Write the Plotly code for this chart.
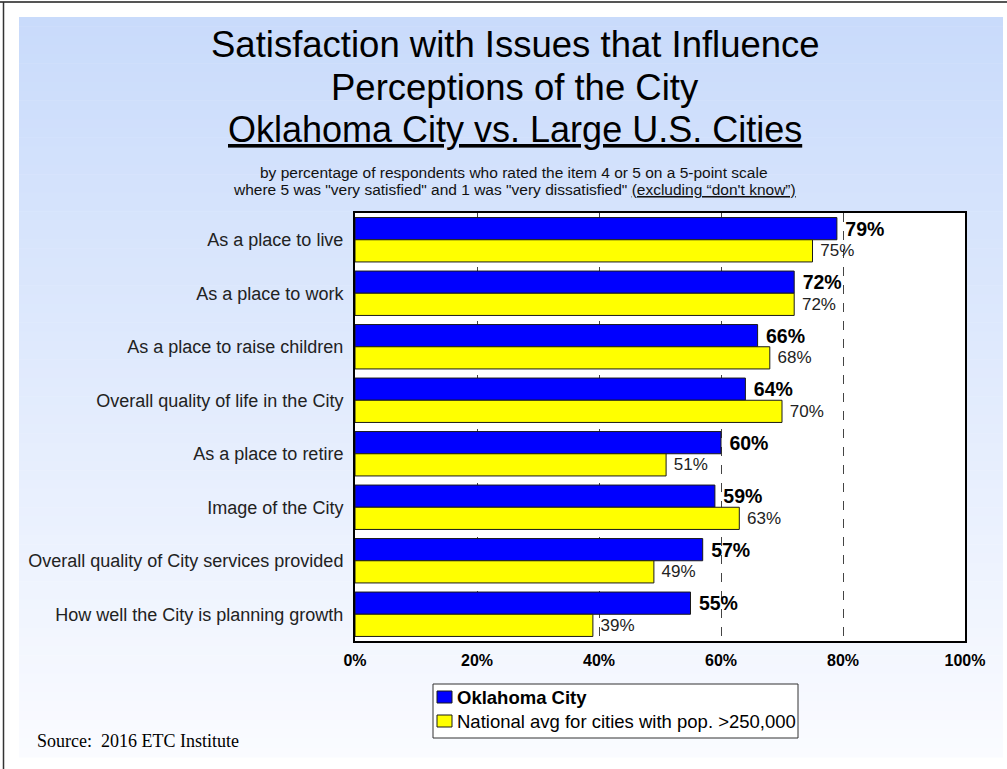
import plotly.graph_objects as go

# Survey items, top to bottom
categories = [
    "As a place to live",
    "As a place to work",
    "As a place to raise children",
    "Overall quality of life in the City",
    "As a place to retire",
    "Image of the City",
    "Overall quality of City services provided",
    "How well the City is planning growth",
]
okc_values = [0.79, 0.72, 0.66, 0.64, 0.60, 0.59, 0.57, 0.55]
national_values = [0.75, 0.72, 0.68, 0.70, 0.51, 0.63, 0.49, 0.39]
x_ticks = [0, 0.2, 0.4, 0.6, 0.8, 1.0]
x_tick_labels = ["0%", "20%", "40%", "60%", "80%", "100%"]

series_names = ["Oklahoma City", "National avg for cities with pop. >250,000"]
series_colors = ["#0000FF", "#FFFF00"]

W, H = 1007, 769
PL, PR, PT, PB = 355, 965, 213, 641  # plot area in pixels

FONT = "Arial, Liberation Sans, sans-serif"
NBSP = "\u00a0"


def px_x(px):
    return (px - PL) / (PR - PL)


def px_y(py):
    return (PB - py) / (PB - PT)


fig = go.Figure()
fig.add_trace(go.Bar(
    y=categories, x=okc_values, orientation="h",
    name=series_names[0],
    marker=dict(color=series_colors[0], line=dict(color="#1a1a1a", width=1)),
    text=[NBSP + f"{v:.0%}" for v in okc_values], textposition="outside",
    textfont=dict(family=FONT, size=19.5, color="#000000", weight="bold"),
    constraintext="none", cliponaxis=False, hoverinfo="skip",
))
fig.add_trace(go.Bar(
    y=categories, x=national_values, orientation="h",
    name=series_names[1],
    marker=dict(color=series_colors[1], line=dict(color="#1a1a1a", width=1)),
    text=[NBSP + f"{v:.0%}" for v in national_values], textposition="outside",
    textfont=dict(family=FONT, size=17, color="#222222"),
    constraintext="none", cliponaxis=False, hoverinfo="skip",
))

shapes = []
# soft blue-to-white backdrop
top_c, bot_c = (201, 219, 251), (250, 251, 255)
y_top, y_bot = 17, 757
n = 80
for i in range(n):
    t = i / (n - 1)
    c = tuple(round(a + (b - a) * t) for a, b in zip(top_c, bot_c))
    y0 = y_top + (y_bot - y_top) * i / n
    y1 = y_top + (y_bot - y_top) * (i + 1) / n + 0.6
    shapes.append(dict(type="rect", xref="paper", yref="paper", layer="below",
                       x0=px_x(19), x1=px_x(1003), y0=px_y(y1), y1=px_y(y0),
                       line=dict(width=0), fillcolor=f"rgb{c}"))
# white plotting area
shapes.append(dict(type="rect", xref="paper", yref="paper", layer="below",
                   x0=0, x1=1, y0=0, y1=1, line=dict(width=0), fillcolor="white"))
# outer frame (top and left edges)
shapes.append(dict(type="line", xref="paper", yref="paper", x0=px_x(0), x1=px_x(W),
                   y0=px_y(2), y1=px_y(2), line=dict(color="#555555", width=2)))
shapes.append(dict(type="line", xref="paper", yref="paper", x0=px_x(3.5), x1=px_x(3.5),
                   y0=px_y(2), y1=px_y(H), line=dict(color="#333333", width=1.5)))

# legend box with swatches
LEG_L, LEG_R, LEG_T, LEG_B = 433, 798, 684, 738
shapes.append(dict(type="rect", xref="paper", yref="paper",
                   x0=px_x(LEG_L), x1=px_x(LEG_R), y0=px_y(LEG_B), y1=px_y(LEG_T),
                   line=dict(color="#333333", width=1), fillcolor="white"))
legend_rows = [697, 721]
for row_y, col in zip(legend_rows, series_colors):
    shapes.append(dict(type="rect", xref="paper", yref="paper",
                       x0=px_x(437), x1=px_x(452), y0=px_y(row_y + 6), y1=px_y(row_y - 6),
                       line=dict(color="#1a1a1a", width=1), fillcolor=col))

annotations = [
    dict(text="Satisfaction with Issues that Influence", x=px_x(515), y=px_y(45),
         font=dict(family=FONT, size=36.5, color="#000000")),
    dict(text="Perceptions of the City", x=px_x(515), y=px_y(87),
         font=dict(family=FONT, size=36.5, color="#000000")),
    dict(text="<u>Oklahoma City vs. Large U.S. Cities</u>", x=px_x(515), y=px_y(129),
         font=dict(family=FONT, size=36, color="#000000")),
    dict(text="by percentage of respondents who rated the item 4 or 5 on a 5-point scale",
         x=px_x(514), y=px_y(172), font=dict(family=FONT, size=15.5, color="#111111")),
    dict(text='where 5 was "very satisfied" and 1 was "very dissatisfied" '
              '<u>(excluding \u201cdon\'t know\u201d)</u>',
         x=px_x(514), y=px_y(190), font=dict(family=FONT, size=15.5, color="#111111")),
    dict(text="Source:" + NBSP * 2 + "2016 ETC Institute", x=px_x(35), y=px_y(741),
         xanchor="left", font=dict(family="Times New Roman, Liberation Serif, serif",
                                   size=18, color="#000000")),
    dict(text="<b>" + series_names[0] + "</b>", x=px_x(455), y=px_y(legend_rows[0]),
         xanchor="left", font=dict(family=FONT, size=18.5, color="#000000")),
    dict(text=series_names[1], x=px_x(455), y=px_y(legend_rows[1]),
         xanchor="left", font=dict(family=FONT, size=18.5, color="#000000")),
]
for a in annotations:
    a.update(xref="paper", yref="paper", showarrow=False)
    a.setdefault("xanchor", "center")
    a.setdefault("yanchor", "middle")

fig.update_layout(
    width=W, height=H,
    margin=dict(l=PL, r=W - PR, t=PT, b=H - PB, pad=0),
    paper_bgcolor="white", plot_bgcolor="white",
    barmode="group", bargap=0.17, bargroupgap=0,
    showlegend=False,
    shapes=shapes, annotations=annotations,
    font=dict(family=FONT),
)
fig.update_xaxes(range=[0, 1], tickvals=x_ticks, ticktext=x_tick_labels,
                 showgrid=True, gridcolor="#444444", gridwidth=1, griddash="dash",
                 showline=True, linecolor="#000000", linewidth=2, mirror=True,
                 ticks="", zeroline=False, ticklabelstandoff=4,
                 tickfont=dict(family=FONT, size=16, color="#000000", weight="bold"))
fig.update_yaxes(autorange="reversed", showgrid=False, ticks="",
                 showline=True, linecolor="#000000", linewidth=2, mirror=True,
                 ticklabelstandoff=6,
                 tickfont=dict(family=FONT, size=18, color="#222222"))

fig.write_html("out.html")
